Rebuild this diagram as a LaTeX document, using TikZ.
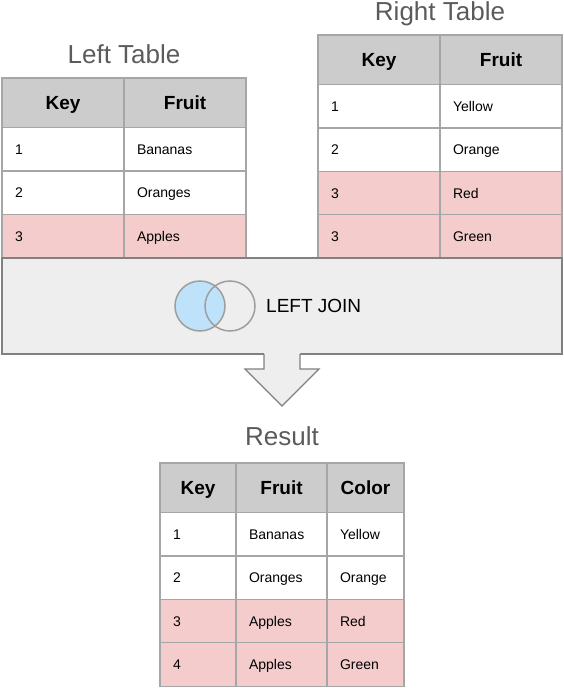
\documentclass[tikz,border=0pt]{standalone}
\usepackage{fontspec}
\setmainfont{Liberation Sans}
\usetikzlibrary{positioning}
\definecolor{headgray}{HTML}{CCCCCC}
\definecolor{gridline}{HTML}{A6A6A6}
\definecolor{matchpink}{HTML}{F4CCCC}
\definecolor{joinfill}{HTML}{EEEEEE}
\definecolor{joinline}{HTML}{808080}
\definecolor{vennblue}{HTML}{BFE2FB}
\definecolor{venngray}{HTML}{9E9E9E}
\definecolor{titlegray}{HTML}{5B5B5B}
\tikzstyle{head} = [rectangle, minimum width=122pt, minimum height=49.5pt, inner sep=0pt, outer sep=0pt, text height=13.6pt, text depth=0pt, text centered, draw=gridline, line width=1.2pt, fill=headgray, font=\bfseries\fontsize{19}{22}\selectfont]
\tikzstyle{cell} = [rectangle, minimum height=43.4pt, inner xsep=13pt, inner ysep=0pt, outer sep=0pt, text height=10pt, text depth=0pt, align=left, draw=gridline, line width=1.2pt, fill=white, font=\fontsize{14}{16}\selectfont]
\tikzstyle{match} = [cell, fill=matchpink]
\tikzstyle{wide} = [text width=96pt]
\tikzstyle{title} = [anchor=base, inner sep=0pt, text=titlegray, font=\fontsize{26}{30}\selectfont]
\tikzstyle{venn} = [circle, minimum size=50pt, inner sep=0pt, outer sep=0pt, draw=venngray, line width=1.5pt]
\tikzstyle{arrowline} = [draw=joinline, line width=1.2pt]

\begin{document}
\begin{tikzpicture}[x=1pt, y=-1pt]
\useasboundingbox (0,0) rectangle (563,688);

% Titles
\node (ltitle) [title] at (124,63) {Left Table};
\node (rtitle) [title] at (440,20) {Right Table};
\node (restitle) [title] at (282,445) {Result};

% Left table
\node (lkey) [head, anchor=north west] at (2,78) {Key};
\node (lfruit) [head, right=0pt of lkey] {Fruit};
\node (lk1) [cell, wide, below=0pt of lkey] {1};
\node (lf1) [cell, wide, below=0pt of lfruit] {Bananas};
\node (lk2) [cell, wide, below=0pt of lk1] {2};
\node (lf2) [cell, wide, below=0pt of lf1] {Oranges};
\node (lk3) [match, wide, below=0pt of lk2] {3};
\node (lf3) [match, wide, below=0pt of lf2] {Apples};

% Right table
\node (rkey) [head, anchor=north west] at (318,35) {Key};
\node (rfruit) [head, right=0pt of rkey] {Fruit};
\node (rk1) [cell, wide, below=0pt of rkey] {1};
\node (rf1) [cell, wide, below=0pt of rfruit] {Yellow};
\node (rk2) [cell, wide, below=0pt of rk1] {2};
\node (rf2) [cell, wide, below=0pt of rf1] {Orange};
\node (rk3) [match, wide, below=0pt of rk2] {3};
\node (rf3) [match, wide, below=0pt of rf2] {Red};
\node (rk4) [match, wide, below=0pt of rk3] {3};
\node (rf4) [match, wide, below=0pt of rf3] {Green};

% Join box
\node (leftjoin) [rectangle, minimum width=560pt, minimum height=96pt, outer sep=0pt, fill=joinfill, arrowline] at (282,306) {};
\node (lcirc) [venn, fill=vennblue] at (200,306) {};
\node (rcirc) [venn, right=-20pt of lcirc] {};
\node (jointext) [right=11pt of rcirc, inner sep=0pt, font=\fontsize{19}{22}\selectfont] {LEFT JOIN};

% Block arrow
\fill[joinfill] ([xshift=-18pt,yshift=1pt]leftjoin.south) -- ++(0,16) -- ++(-19,0) -- ++(37,37) -- ++(37,-37) -- ++(-19,0) -- ++(0,-16) -- cycle;
\draw[arrowline] ([xshift=-18pt]leftjoin.south) -- ++(0,15) -- ++(-19,0) -- ++(37,37) -- ++(37,-37) -- ++(-19,0) -- ++(0,-15);

% Result table
\node (reskey) [head, minimum width=76pt, anchor=north west] at (160,463) {Key};
\node (resfruit) [head, minimum width=91pt, right=0pt of reskey] {Fruit};
\node (rescolor) [head, minimum width=77pt, right=0pt of resfruit] {Color};
\node (k1) [cell, text width=50pt, below=0pt of reskey] {1};
\node (f1) [cell, text width=65pt, below=0pt of resfruit] {Bananas};
\node (c1) [cell, text width=51pt, below=0pt of rescolor] {Yellow};
\node (k2) [cell, text width=50pt, below=0pt of k1] {2};
\node (f2) [cell, text width=65pt, below=0pt of f1] {Oranges};
\node (c2) [cell, text width=51pt, below=0pt of c1] {Orange};
\node (k3) [match, text width=50pt, below=0pt of k2] {3};
\node (f3) [match, text width=65pt, below=0pt of f2] {Apples};
\node (c3) [match, text width=51pt, below=0pt of c2] {Red};
\node (k4) [match, text width=50pt, below=0pt of k3] {4};
\node (f4) [match, text width=65pt, below=0pt of f3] {Apples};
\node (c4) [match, text width=51pt, below=0pt of c3] {Green};

\end{tikzpicture}
\end{document}
